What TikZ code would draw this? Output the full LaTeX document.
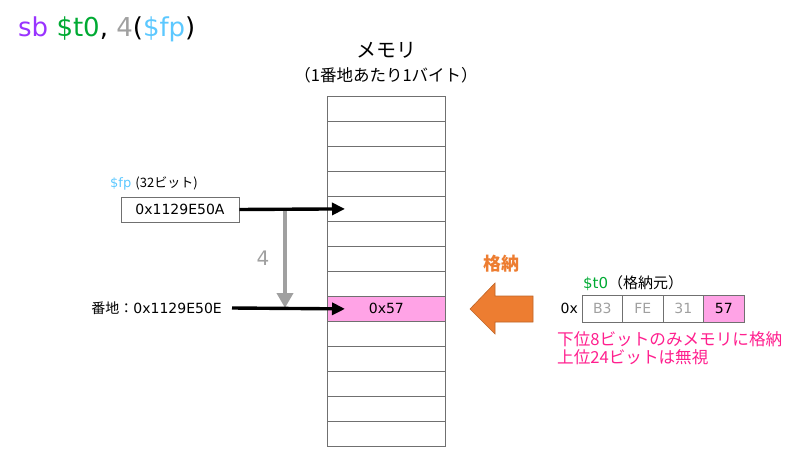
\documentclass[tikz,border=0pt]{standalone}
\usepackage{fontspec}
\setmainfont{DejaVu Sans}
\newfontfamily\jp{Noto Sans CJK JP}
\usetikzlibrary{arrows.meta}
\definecolor{cpurple}{HTML}{9933FF}
\definecolor{cgreen}{HTML}{00AA33}
\definecolor{cgray}{HTML}{A0A0A0}
\definecolor{cblue}{HTML}{5CC8FF}
\definecolor{cpink}{HTML}{FFA3E6}
\definecolor{corange}{HTML}{ED7D31}
\definecolor{cred}{HTML}{FF1F8E}
\definecolor{cline}{HTML}{707070}
\tikzset{
  memrow/.style={draw=cline, line width=0.8pt, minimum width=118pt, minimum height=25pt, inner sep=0pt, anchor=north west, font=\fontsize{14}{16}\selectfont},
  regcell/.style={draw=cline, line width=0.8pt, minimum width=40.5pt, minimum height=27pt, inner sep=0pt, font=\fontsize{14}{16}\selectfont},
  ptr/.style={line width=3.4pt, -{Triangle[length=13pt,width=12pt]}},
  lbl/.style={inner sep=0pt, font=\fontsize{14}{16}\selectfont},
}
\begin{document}
\begin{tikzpicture}[x=1pt,y=-1pt]
\useasboundingbox (0,0) rectangle (800,465);
% title
\node[anchor=base west, inner sep=0pt, font=\fontsize{26}{30}\selectfont] (title) at (18,37)
  {\textcolor{cpurple}{sb} \textcolor{cgreen}{\$t0}, \textcolor{cgray}{4}(\textcolor{cblue}{\$fp})};
% memory
\node[inner sep=0pt, font=\jp\fontsize{20}{24}\selectfont] (memt) at (386,50) {メモリ};
\node[inner sep=0pt, font=\jp\fontsize{16.5}{20}\selectfont] (mems) at (386,75) {（1番地あたり1バイト）};
\foreach \i in {0,...,13} {
  \node[memrow] (m\i) at (327,{96+25*\i}) {};
}
\node[memrow, fill=cpink] (m8) at (327,296) {0x57};
% fp box
\node[inner sep=0pt, anchor=west, font=\fontsize{13}{15}\selectfont] (fpl) at (110,183) {\textcolor{cblue}{\$fp} {\jp (32ビット)}};
\node[draw=cline, line width=0.8pt, minimum width=118pt, minimum height=25pt, inner sep=0pt, font=\fontsize{14}{16}\selectfont] (fp) at (180,209.5) {0x1129E50A};
% address
\node[lbl, anchor=east] (addr) at (222,308) {{\jp 番地：}0x1129E50E};
% gray arrow
\coordinate (g1) at (285,209.5);
\coordinate (g2) at (285,308);
\draw[line width=4.5pt, draw=cgray, -{Triangle[length=15pt,width=16pt]}] (g1) -- (g2);
\node[inner sep=0pt, text=cgray, font=\fontsize{20}{24}\selectfont] (four) at (263,258) {4};
% black arrows
\draw[ptr] (fp.east) -- ([xshift=18pt]m4.west);
\draw[ptr] ([xshift=10pt]addr.east) -- ([xshift=18pt]m8.west);
% orange arrow
\draw[fill=corange, draw=corange!80!black, line width=0.6pt] (533,296) -- (495,296) -- (495,283) -- (470,309) -- (495,334) -- (495,322) -- (533,322) -- cycle;
\node[inner sep=0pt, text=corange, font=\jp\bfseries\fontsize{18}{22}\selectfont] (kakuno) at (501,264) {格納};
% register
\node[inner sep=0pt, anchor=west, font=\fontsize{15}{18}\selectfont] (t0l) at (583,283) {\textcolor{cgreen}{\$t0}{\jp （格納元）}};
\node[regcell, text=cgray] (r0) at (602.25,308.5) {B3};
\node[regcell, text=cgray] (r1) at (642.75,308.5) {FE};
\node[regcell, text=cgray] (r2) at (683.25,308.5) {31};
\node[regcell, fill=cpink] (r3) at (723.75,308.5) {57};
\node[lbl, anchor=east] (ox) at (578,308.5) {0x};
\node[anchor=north west, inner sep=0pt, align=left, text=cred, font=\jp\fontsize{16.6}{18}\selectfont] (note) at (557,331) {下位8ビットのみメモリに格納\\上位24ビットは無視};
\end{tikzpicture}
\end{document}
